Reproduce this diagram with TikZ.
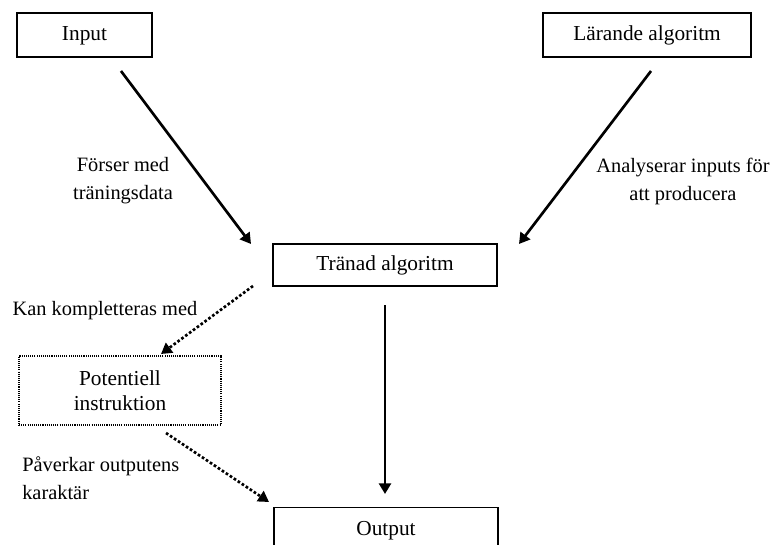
\documentclass[tikz,border=0pt]{standalone}
\usepackage{fontspec}
\setmainfont{Liberation Serif}
\usetikzlibrary{arrows.meta}
\begin{document}
\begin{tikzpicture}[x=0.75pt,y=-0.75pt,
  box/.style={draw,line width=0.8pt,inner sep=0pt,font=\fontsize{16}{19}\selectfont,text height=10.5pt,text depth=1.5pt},
  dbox/.style={draw,line width=0.8pt,inner sep=0pt,font=\fontsize{16}{19}\selectfont,dash pattern=on 0.8pt off 0.8pt},
  lab/.style={font=\fontsize{15.3}{21}\selectfont,align=center,inner sep=0pt},
  arr/.style={line width=2pt,-{Triangle[length=8pt,width=9pt]}},
  darr/.style={arr,dash pattern=on 2pt off 1.6pt}]
\useasboundingbox (0,0) rectangle (781,545);
\clip (0,0) rectangle (781,545);
\node[box,minimum width=101.25pt,minimum height=33pt] (in) at (84.5,35) {Input};
\node[box,minimum width=156pt,minimum height=33pt] (la) at (647,35) {Lärande algoritm};
\node[box,minimum width=168pt,minimum height=31.5pt] (tr) at (385,265) {Tränad algoritm};
\node[dbox,minimum width=151.5pt,minimum height=51.75pt,align=center] (po) at (120,390.5) {Potentiell\\instruktion};
\node[box,minimum width=168pt,minimum height=33pt,anchor=north] (out) at (386,507) {Output};
\coordinate (a1s) at (121,71);
\coordinate (a1e) at (251,244);
\coordinate (a2s) at (651,71);
\coordinate (a2e) at (519,244);
\coordinate (a3s) at (385,305);
\coordinate (a3e) at (385,494);
\coordinate (a4s) at (253,286);
\coordinate (a4e) at (161,354);
\coordinate (a5s) at (166,433);
\coordinate (a5e) at (269,502);
\draw[arr] (a1s) -- (a1e);
\draw[arr] (a2s) -- (a2e);
\draw[arr] (a3s) -- (a3e);
\draw[darr] (a4s) -- (a4e);
\draw[darr] (a5s) -- (a5e);
\node[lab] (l1) at (123,181) {Förser med\\träningsdata};
\node[lab] (l2) at (683,181) {Analyserar inputs för\\att producera};
\node[lab] (l3) at (105,311) {Kan kompletteras med};
\node[lab,align=left,anchor=west] (l4) at (22,478) {Påverkar outputens\\karaktär};
\end{tikzpicture}
\end{document}
